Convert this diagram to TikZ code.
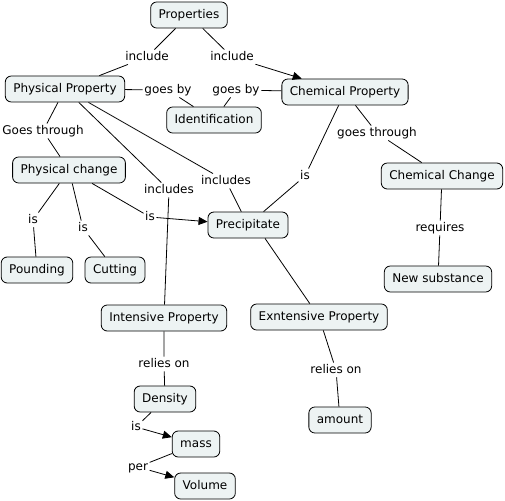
\documentclass[tikz,border=0pt]{standalone}
\usepackage{fontspec}
\setmainfont{DejaVu Sans}
\usetikzlibrary{arrows.meta}
\definecolor{cfill}{HTML}{EDF3F3}
\tikzset{
  concept/.style={draw=black,line width=0.8pt,rounded corners=6pt,fill=cfill,
    inner xsep=8pt,minimum height=26pt,text height=9pt,text depth=2.5pt},
  phrase/.style={inner sep=1.5pt,text height=9pt,text depth=2.5pt},
  ln/.style={line width=0.8pt},
  ar/.style={ln,-{Triangle[length=9pt,width=8pt]}},
}

\begin{document}
\begin{tikzpicture}[x=1pt,y=-1pt,font=\fontsize{12}{14}\selectfont]
\useasboundingbox (0,0) rectangle (505,500);
% concepts
\node[concept] (props) at (189,15) {Properties};
\node[concept] (phys) at (65,89) {Physical Property};
\node[concept] (ident) at (214,120) {Identification};
\node[concept] (chem) at (345,92) {Chemical Property};
\node[concept] (physch) at (69,170) {Physical change};
\node[concept] (chemch) at (442,176) {Chemical Change};
\node[concept] (prec) at (248,225) {Precipitate};
\node[concept] (pound) at (37,270) {Pounding};
\node[concept] (cut) at (115,270) {Cutting};
\node[concept] (newsub) at (438,279) {New substance};
\node[concept] (intens) at (164,318) {Intensive Property};
\node[concept] (extens) at (319,317) {Exntensive Property};
\node[concept] (dens) at (165,399) {Density};
\node[concept] (amt) at (340,420) {amount};
\node[concept] (mass) at (196,444) {mass};
\node[concept] (vol) at (205,486) {Volume};
% linking phrases
\node[phrase] (inclL) at (147,57) {include};
\node[phrase] (inclR) at (232,57) {include};
\node[phrase] (gobyL) at (168,90) {goes by};
\node[phrase] (gobyR) at (236,90) {goes by};
\node[phrase] (gothL) at (43,131) {Goes through};
\node[phrase] (gothR) at (377,133) {goes through};
\node[phrase] (inclsM) at (169,190) {includes};
\node[phrase] (inclsR) at (226,181) {includes};
\node[phrase] (isChem) at (305,176) {is};
\node[phrase] (isPound) at (33,220) {is};
\node[phrase] (isCut) at (83,228) {is};
\node[phrase] (isPrec) at (150,217) {is};
\node[phrase] (req) at (440,228) {requires};
\node[phrase] (reliesL) at (164,364) {relies on};
\node[phrase] (reliesR) at (336,370) {relies on};
\node[phrase] (isMass) at (136,427) {is};
\node[phrase] (per) at (138,467) {per};
% connectors
\draw[ln] (props) -- (inclL) -- (phys);
\draw[ln] (props) -- (inclR);
\draw[ar] (inclR) -- (chem);
\draw[ln] (phys) -- (gobyL) -- (ident);
\draw[ln] (chem) -- (gobyR) -- (ident);
\draw[ln] (phys) -- (gothL) -- (physch);
\draw[ln] (phys) -- (inclsM) -- (intens);
\draw[ln] (phys) -- (inclsR) -- (prec);
\draw[ln] (chem) -- (isChem) -- (prec);
\draw[ln] (chem) -- (gothR) -- (chemch);
\draw[ln] (physch) -- (isPound) -- (pound);
\draw[ln] (physch) -- (isCut) -- (cut);
\draw[ln] (physch) -- (isPrec);
\draw[ar] (isPrec) -- (prec);
\draw[ln] (chemch) -- (req) -- (newsub);
\draw[ln] ([xshift=17pt]prec.south) -- (extens);
\draw[ln] (intens) -- (reliesL) -- (dens);
\draw[ln] (extens) -- (reliesR) -- (amt);
\draw[ln] (dens) -- (isMass);
\draw[ar] (isMass) -- (mass);
\draw[ln] (mass) -- (per);
\draw[ar] (per) -- (vol);
\end{tikzpicture}
\end{document}
